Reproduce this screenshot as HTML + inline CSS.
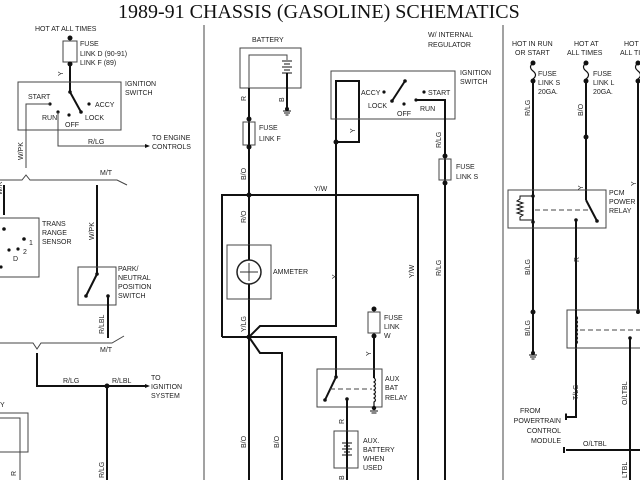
<!DOCTYPE html>
<html><head><meta charset="utf-8"><style>
html,body{margin:0;padding:0;background:#fff;}
svg{display:block}
text{font-family:"Liberation Sans",sans-serif;font-size:7px;fill:#222;}
.t{font-family:"Liberation Serif",serif;font-size:20px;fill:#111;}
.w{stroke:#111;stroke-width:2;fill:none}
.b{stroke:#444;stroke-width:1;fill:none}
.d{stroke:#444;stroke-width:1;stroke-dasharray:5,3;fill:none}
</style></head><body>
<svg width="640" height="480" viewBox="0 0 640 480" xmlns="http://www.w3.org/2000/svg">
<rect width="640" height="480" fill="#fff"/>
<text class="t" x="118" y="18">1989-91 CHASSIS (GASOLINE) SCHEMATICS</text>
<line x1="204" y1="25" x2="204" y2="480" class="b" stroke-width="1.5"/>
<line x1="503" y1="25" x2="503" y2="480" class="b" stroke-width="1.5"/>

<!-- LEFT PANEL -->
<text x="35" y="31">HOT AT ALL TIMES</text>
<circle cx="70" cy="38" r="2.5" fill="#111"/>
<rect x="63" y="41" width="14" height="21" class="b"/>
<circle cx="70" cy="64" r="2.5" fill="#111"/>
<text x="80" y="46">FUSE</text><text x="80" y="56">LINK D (90-91)</text><text x="80" y="65">LINK F (89)</text>
<text x="0" y="0" transform="translate(63,76) rotate(-90)">Y</text>
<line x1="70" y1="64" x2="70" y2="92" class="w"/>
<rect x="18" y="82" width="103" height="48" class="b"/>
<text x="125" y="86">IGNITION</text><text x="125" y="95">SWITCH</text>
<circle cx="70" cy="92" r="1.8" fill="#111"/><line x1="70" y1="92" x2="81" y2="112" class="w" stroke-width="1.5"/><circle cx="81" cy="112" r="1.8" fill="#111"/>
<circle cx="89" cy="104" r="1.6" fill="#111"/><text x="95" y="107">ACCY</text>
<text x="28" y="99">START</text><circle cx="50" cy="104" r="1.6" fill="#111"/>
<path d="M50,104 H26 V168" class="b" stroke-width="1.5"/>
<text x="42" y="120">RUN</text><circle cx="58" cy="112" r="1.6" fill="#111"/>
<circle cx="69" cy="115" r="1.6" fill="#111"/><text x="65" y="127">OFF</text>
<text x="85" y="120">LOCK</text>
<path d="M58,112 V146 H145" class="b" stroke-width="1.5"/><path d="M145,144 L150,146 L145,148Z" fill="#111"/>
<text x="88" y="144">R/LG</text>
<text x="152" y="140">TO ENGINE</text><text x="152" y="149">CONTROLS</text>
<text x="0" y="0" transform="translate(23,160) rotate(-90)">W/PK</text>
<path d="M0,180 H22 L26,175 L30,180 H117 L127,185" class="b" stroke-width="1.5"/>
<text x="100" y="175">M/T</text>
<line x1="4" y1="185" x2="4" y2="215" class="w"/>
<text x="0" y="0" transform="translate(2,195) rotate(-90)">W/R</text>
<rect x="-1" y="218" width="40" height="59" class="b"/>
<text x="42" y="226">TRANS</text><text x="42" y="235">RANGE</text><text x="42" y="244">SENSOR</text>
<circle cx="4" cy="229" r="1.8" fill="#111"/><circle cx="24" cy="239" r="1.8" fill="#111"/><circle cx="18" cy="249" r="1.6" fill="#111"/><circle cx="9" cy="250" r="1.6" fill="#111"/><circle cx="1" cy="267" r="1.6" fill="#111"/>
<text x="13" y="261">D</text><text x="23" y="254" font-size="6">2</text><text x="29" y="245" font-size="6">1</text>
<line x1="97" y1="185" x2="97" y2="274" class="w"/>
<text x="0" y="0" transform="translate(94,240) rotate(-90)">W/PK</text>
<rect x="78" y="267" width="38" height="38" class="b"/>
<text x="118" y="271">PARK/</text><text x="118" y="280">NEUTRAL</text><text x="118" y="289">POSITION</text><text x="118" y="298">SWITCH</text>
<circle cx="97" cy="274" r="1.8" fill="#111"/><line x1="97" y1="274" x2="86" y2="296" class="w" stroke-width="1.5"/><circle cx="86" cy="296" r="1.8" fill="#111"/><circle cx="108" cy="296" r="1.8" fill="#111"/>
<line x1="108" y1="296" x2="108" y2="338" class="w"/>
<text x="0" y="0" transform="translate(104,334) rotate(-90)">R/LBL</text>
<path d="M0,343 H33 L37,349 L41,343 H112 L124,336" class="b" stroke-width="1.5"/>
<text x="100" y="352">M/T</text>
<path d="M37,353 V386 H145" class="w"/><path d="M145,384 L150,386 L145,388Z" fill="#111"/>
<text x="63" y="383">R/LG</text><text x="112" y="383">R/LBL</text>
<circle cx="107" cy="386" r="2.5" fill="#111"/>
<line x1="107" y1="386" x2="107" y2="480" class="w"/>
<text x="0" y="0" transform="translate(104,478) rotate(-90)">R/LG</text>
<text x="151" y="380">TO</text><text x="151" y="389">IGNITION</text><text x="151" y="398">SYSTEM</text>
<text x="0" y="407">Y</text>
<path d="M0,413 H28 V452 H0" class="b"/>
<path d="M0,418 H20 V480" class="b" stroke-width="1.5"/>
<text x="0" y="0" transform="translate(16,476) rotate(-90)">R</text>

<!-- MIDDLE PANEL -->
<text x="252" y="42">BATTERY</text>
<rect x="240" y="48" width="61" height="40" class="b"/>
<path d="M249,88 V55 H287 V60" class="b" stroke-width="1.5"/>
<g stroke="#111"><line x1="282" y1="61" x2="292" y2="61"/><line x1="284" y1="64" x2="290" y2="64"/><line x1="282" y1="67" x2="292" y2="67"/><line x1="284" y1="70" x2="290" y2="70"/><line x1="282" y1="73" x2="292" y2="73"/></g>
<line x1="287" y1="73" x2="287" y2="109" class="w"/>
<circle cx="287" cy="109" r="2" fill="#111"/><g stroke="#111"><line x1="283" y1="111" x2="291" y2="111"/><line x1="284" y1="113" x2="290" y2="113"/><line x1="285.5" y1="115" x2="288.5" y2="115"/></g>
<text x="0" y="0" transform="translate(284,102) rotate(-90)">B</text>
<text x="0" y="0" transform="translate(246,101) rotate(-90)">R</text>
<line x1="249" y1="88" x2="249" y2="480" class="w"/>
<circle cx="249" cy="119" r="2.5" fill="#111"/><rect x="243" y="122" width="12" height="23" fill="#fff" class="b"/><circle cx="249" cy="147" r="2.5" fill="#111"/>
<text x="259" y="130">FUSE</text><text x="259" y="141">LINK F</text>
<text x="0" y="0" transform="translate(246,180) rotate(-90)">B/O</text>
<text x="0" y="0" transform="translate(246,223) rotate(-90)">R/O</text>
<path d="M222,337 V195 H418 V480" class="w"/>
<circle cx="249" cy="195" r="2.5" fill="#111"/>
<text x="314" y="191">Y/W</text>
<rect x="227" y="245" width="44" height="54" fill="#fff" class="b"/>
<line x1="249" y1="245" x2="249" y2="299" class="w"/>
<circle cx="249" cy="272" r="12" fill="#fff" stroke="#222" stroke-width="1.5"/>
<line x1="240" y1="272" x2="258" y2="272" stroke="#333"/><line x1="249" y1="263" x2="249" y2="281" stroke="#333"/>
<text x="273" y="274">AMMETER</text>
<text x="0" y="0" transform="translate(246,332) rotate(-90)">Y/LG</text>
<text x="0" y="0" transform="translate(246,448) rotate(-90)">B/O</text>
<text x="0" y="0" transform="translate(279,448) rotate(-90)">B/O</text>
<path d="M222,337 H336 V377" class="w"/>
<circle cx="249" cy="337" r="2.5" fill="#111"/>
<path d="M249,337 L260,326 H336 V81 H359 V142 H336" class="w"/>
<circle cx="336" cy="142" r="2.5" fill="#111"/>
<path d="M249,337 L260,353 H282 V480" class="w"/>
<text x="0" y="0" transform="translate(355,133) rotate(-90)">Y</text>
<text x="0" y="0" transform="translate(337,279) rotate(-90)">Y</text>
<text x="428" y="37">W/ INTERNAL</text><text x="428" y="47">REGULATOR</text>
<rect x="331" y="71" width="124" height="48" class="b"/>
<text x="460" y="75">IGNITION</text><text x="460" y="84">SWITCH</text>
<text x="361" y="95">ACCY</text><circle cx="384" cy="92" r="1.6" fill="#111"/>
<circle cx="405" cy="81" r="1.8" fill="#111"/><line x1="405" y1="81" x2="392" y2="101" class="w" stroke-width="1.5"/><circle cx="392" cy="101" r="1.8" fill="#111"/>
<text x="368" y="108">LOCK</text>
<circle cx="404" cy="104" r="1.6" fill="#111"/><text x="397" y="116">OFF</text>
<circle cx="424" cy="92" r="1.6" fill="#111"/><text x="428" y="95">START</text>
<circle cx="416" cy="100" r="1.6" fill="#111"/><text x="420" y="111">RUN</text>
<path d="M416,100 H445 V480" class="w" />
<circle cx="445" cy="156" r="2.5" fill="#111"/><rect x="439" y="159" width="12" height="21" fill="#fff" class="b"/><circle cx="445" cy="183" r="2.5" fill="#111"/>
<text x="456" y="169">FUSE</text><text x="456" y="179">LINK S</text>
<text x="0" y="0" transform="translate(441,148) rotate(-90)">R/LG</text>
<text x="0" y="0" transform="translate(441,276) rotate(-90)">R/LG</text>
<text x="0" y="0" transform="translate(414,278) rotate(-90)">Y/W</text>
<circle cx="374" cy="309" r="2.5" fill="#111"/><rect x="368" y="312" width="12" height="21" class="b"/><circle cx="374" cy="336" r="2.5" fill="#111"/>
<text x="384" y="320">FUSE</text><text x="384" y="329">LINK</text><text x="384" y="338">W</text>
<line x1="374" y1="336" x2="374" y2="378" class="w"/>
<text x="0" y="0" transform="translate(371,356) rotate(-90)">Y</text>
<rect x="317" y="369" width="65" height="38" fill="#fff" class="b"/>
<text x="385" y="381">AUX</text><text x="385" y="390">BAT</text><text x="385" y="400">RELAY</text>
<circle cx="336" cy="377" r="1.8" fill="#111"/><line x1="336" y1="377" x2="325" y2="400" class="w" stroke-width="1.5"/><circle cx="325" cy="400" r="1.8" fill="#111"/>
<line x1="330" y1="389" x2="372" y2="389" class="d"/>
<path d="M374,378 q3,2 0,4 q3,2 0,4 q3,2 0,4 q3,2 0,4 q3,2 0,4 q3,2 0,4 V408" stroke="#111" fill="none" stroke-width="1.2"/>
<circle cx="374" cy="408" r="2.2" fill="#111"/><g stroke="#111"><line x1="370" y1="411" x2="378" y2="411"/><line x1="371.5" y1="413" x2="376.5" y2="413"/></g>
<circle cx="347" cy="399" r="1.8" fill="#111"/>
<line x1="347" y1="399" x2="347" y2="480" class="w"/>
<text x="0" y="0" transform="translate(344,424) rotate(-90)">R</text>
<rect x="334" y="431" width="24" height="37" fill="#fff" class="b"/>
<g stroke="#111"><line x1="342" y1="443" x2="352" y2="443"/><line x1="344" y1="446" x2="350" y2="446"/><line x1="342" y1="449" x2="352" y2="449"/><line x1="344" y1="452" x2="350" y2="452"/><line x1="342" y1="455" x2="352" y2="455"/></g>
<line x1="347" y1="431" x2="347" y2="443" stroke="#111"/><line x1="347" y1="455" x2="347" y2="468" stroke="#111"/>
<text x="363" y="443">AUX.</text><text x="363" y="452">BATTERY</text><text x="363" y="461">WHEN</text><text x="363" y="470">USED</text>
<text x="0" y="0" transform="translate(344,480) rotate(-90)">B</text>

<!-- RIGHT PANEL -->
<text x="512" y="46">HOT IN RUN</text><text x="515" y="55">OR START</text>
<text x="574" y="46">HOT AT</text><text x="567" y="55">ALL TIMES</text>
<text x="624" y="46">HOT AT</text><text x="620" y="55">ALL TIMES</text>
<circle cx="533" cy="63" r="2.5" fill="#111"/><circle cx="586" cy="63" r="2.5" fill="#111"/><circle cx="638" cy="63" r="2.5" fill="#111"/>
<path d="M533,63 q-5,4 0,8 q5,4 0,8" stroke="#111" fill="none" stroke-width="1.2"/>
<path d="M586,63 q-5,4 0,8 q5,4 0,8" stroke="#111" fill="none" stroke-width="1.2"/>
<path d="M638,63 q-5,4 0,8 q5,4 0,8" stroke="#111" fill="none" stroke-width="1.2"/>
<circle cx="533" cy="81" r="2.5" fill="#111"/><circle cx="586" cy="81" r="2.5" fill="#111"/><circle cx="638" cy="81" r="2.5" fill="#111"/>
<text x="538" y="76">FUSE</text><text x="538" y="85">LINK S</text><text x="538" y="94">20GA.</text>
<text x="593" y="76">FUSE</text><text x="593" y="85">LINK L</text><text x="593" y="94">20GA.</text>
<line x1="533" y1="81" x2="533" y2="352" class="w"/>
<line x1="586" y1="81" x2="586" y2="200" class="w"/>
<line x1="638" y1="81" x2="638" y2="312" class="w"/>
<text x="0" y="0" transform="translate(530,116) rotate(-90)">R/LG</text>
<text x="0" y="0" transform="translate(583,116) rotate(-90)">B/O</text>
<circle cx="586" cy="137" r="2.5" fill="#111"/>
<text x="0" y="0" transform="translate(583,190) rotate(-90)">Y</text>
<text x="0" y="0" transform="translate(636,186) rotate(-90)">Y</text>
<rect x="508" y="190" width="98" height="38" fill="none" class="b"/>
<text x="609" y="195">PCM</text><text x="609" y="204">POWER</text><text x="609" y="213">RELAY</text>
<path d="M533,196 H520 v3 l-3,2 l6,2 l-6,2 l6,2 l-6,2 l6,2 l-6,2 l6,2 l-3,2 v3 H533" stroke="#111" fill="none"/>
<circle cx="533" cy="196" r="1.8" fill="#111"/><circle cx="533" cy="222" r="1.8" fill="#111"/>
<line x1="535" y1="210" x2="592" y2="210" class="d"/>
<line x1="586" y1="200" x2="597" y2="221" class="w" stroke-width="1.5"/><circle cx="597" cy="221" r="1.8" fill="#111"/>
<circle cx="576" cy="220" r="1.8" fill="#111"/>
<path d="M576,220 V417 H566" class="w"/><path d="M566,414 V420" stroke="#111" stroke-width="2"/>
<text x="0" y="0" transform="translate(579,262) rotate(-90)">R</text>
<text x="0" y="0" transform="translate(530,275) rotate(-90)">B/LG</text>
<circle cx="533" cy="312" r="2.5" fill="#111"/>
<text x="0" y="0" transform="translate(530,336) rotate(-90)">B/LG</text>
<circle cx="533" cy="353" r="2" fill="#111"/><g stroke="#111"><line x1="529" y1="355" x2="537" y2="355"/><line x1="530" y1="357" x2="536" y2="357"/><line x1="531.5" y1="359" x2="534.5" y2="359"/></g>
<rect x="567" y="310" width="80" height="38" fill="#fff" class="b"/>
<line x1="576" y1="310" x2="576" y2="316" class="w"/>
<path d="M576,316 q3,2 0,4 q3,2 0,4 q3,2 0,4 q3,2 0,4 q3,2 0,4 q3,2 0,4 q3,2 0,4 V348" stroke="#111" fill="none" stroke-width="1.2"/>
<line x1="580" y1="330" x2="640" y2="330" class="d"/>
<circle cx="638" cy="312" r="2" fill="#111"/>
<circle cx="630" cy="338" r="1.8" fill="#111"/>
<line x1="630" y1="338" x2="630" y2="480" class="w"/>
<text x="0" y="0" transform="translate(627,405) rotate(-90)">O/LTBL</text>
<text x="0" y="0" transform="translate(578,400) rotate(-90)">T/LG</text>
<text x="520" y="413" text-anchor="start">FROM</text>
<text x="561" y="423" text-anchor="end">POWERTRAIN</text>
<text x="561" y="433" text-anchor="end">CONTROL</text>
<text x="561" y="443" text-anchor="end">MODULE</text>
<line x1="566" y1="413" x2="566" y2="420" stroke="#111"/>
<path d="M566,450 H640" class="w"/><path d="M564,447 V453" stroke="#111" stroke-width="2"/>
<text x="583" y="446">O/LTBL</text>
<text x="0" y="0" transform="translate(627,478) rotate(-90)">LTBL</text>
</svg>
</body></html>
